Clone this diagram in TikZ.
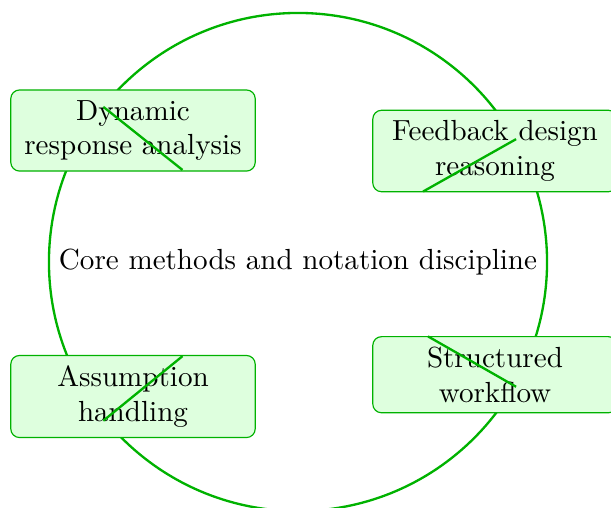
\documentclass[tikz,border=0pt]{standalone}
\usetikzlibrary{calc}
\begin{document}
\begin{tikzpicture}[x=0.3437pt, y=-0.3437pt,
  ring/.style={draw=green!70!black, thick},
  topicbox/.style={draw=green!70!black, fill=green!13, rounded corners=3pt,
    align=center, text width=77pt, inner sep=3.5pt, font=\normalsize},
  spoke/.style={draw=green!70!black, thick}]
  \useasboundingbox (0,0) rectangle (611,507);
  \node (core) at (298,262) {Core methods and notation discipline};
  \draw[ring] (core.center) circle[radius=85.6pt];
  \node[topicbox] (tl) at (133,130.5) {Dynamic\\response analysis};
  \node[topicbox] (tr) at (495,151) {Feedback design\\reasoning};
  \node[topicbox] (bl) at (133,396.5) {Assumption\\handling};
  \node[topicbox] (br) at (495,374.7) {Structured\\workflow};
  \draw[spoke] ($(tl)!-0.18!(core)$) -- ($(tl)!0.30!(core)$);
  \draw[spoke] ($(tr)!-0.107!(core)$) -- ($(tr)!0.365!(core)$);
  \draw[spoke] ($(bl)!-0.18!(core)$) -- ($(bl)!0.30!(core)$);
  \draw[spoke] ($(br)!-0.107!(core)$) -- ($(br)!0.34!(core)$);
\end{tikzpicture}
\end{document}
